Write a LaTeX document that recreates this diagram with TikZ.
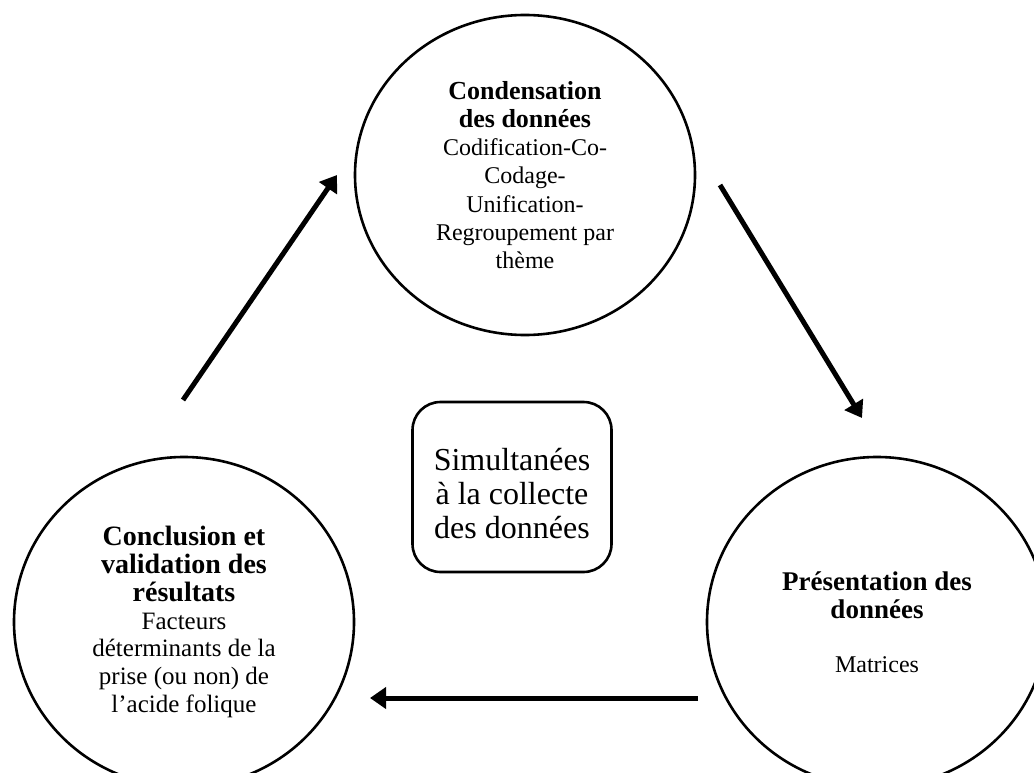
\documentclass[tikz,border=0pt]{standalone}
\usepackage{fontspec}
\setmainfont{Liberation Serif}
\usetikzlibrary{shapes.geometric,arrows.meta}
\newcommand\hd[2]{{\fontsize{#1}{28}\selectfont\bfseries #2}}
\begin{document}
\begin{tikzpicture}[x=1pt,y=-1pt,
  stage/.style={ellipse,draw,line width=2.6pt,minimum width=340pt,minimum height=320pt,inner sep=0pt,align=center},
  centrebox/.style={draw,line width=2.6pt,rounded corners=28pt,minimum width=199pt,minimum height=170pt,inner sep=0pt,align=center,font=\fontsize{32}{34}\selectfont},
  cyc/.style={line width=5pt,-{Triangle[length=16pt,width=21pt]}}]
\useasboundingbox (0,0) rectangle (1034,773);
\clip (0,0) rectangle (1034,773);
\fill[white] (0,0) rectangle (1034,773);
\node[stage,font=\fontsize{24}{28.3}\selectfont] (cond) at (525,175) {\hd{26}{Condensation}\\\hd{26}{des données}\\Codification-Co-\\Codage-\\Unification-\\Regroupement par\\thème};
\node[stage,minimum height=330pt,font=\fontsize{25}{27.8}\selectfont] (concl) at (184,622) {\hd{28}{Conclusion et}\\\hd{28}{validation des}\\\hd{28}{résultats}\\Facteurs\\déterminants de la\\prise (ou non) de\\l’acide folique};
\node[stage,minimum height=330pt,font=\fontsize{24}{28}\selectfont] (pres) at (877,622) {\hd{27}{Présentation des}\\\hd{27}{données}\\[26pt]Matrices};
\node[centrebox] (simul) at (512,487) {\rule{0pt}{36pt}Simultanées\\à la collecte\\des données};
\coordinate (a1s) at (183,400);
\coordinate (a1e) at (337,175);
\coordinate (a2s) at (720,185);
\coordinate (a2e) at (862,418);
\coordinate (a3s) at (698,698);
\coordinate (a3e) at (370,698);
\draw[cyc] (a1s) -- (a1e);
\draw[cyc] (a2s) -- (a2e);
\draw[cyc] (a3s) -- (a3e);
\end{tikzpicture}
\end{document}
